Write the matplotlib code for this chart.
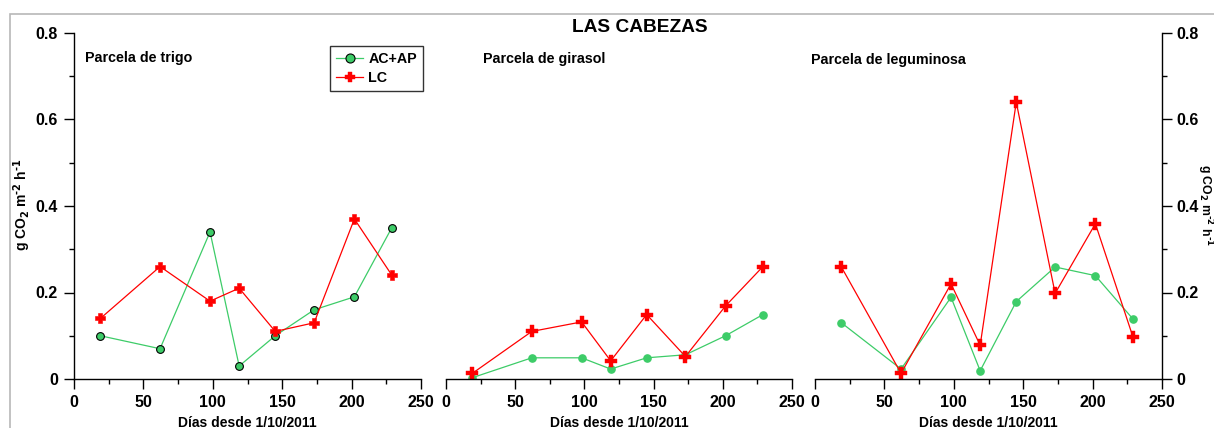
import matplotlib
matplotlib.use("Agg")
import matplotlib.pyplot as plt
from matplotlib.ticker import MultipleLocator, FuncFormatter
from matplotlib.lines import Line2D
from matplotlib.patches import Rectangle

plt.rcParams['font.family'] = ['Liberation Sans', 'DejaVu Sans']
plt.rcParams['font.weight'] = 'bold'
plt.rcParams['mathtext.default'] = 'bf'

days = [19, 62, 98, 119, 145, 173, 202, 229]

trigo_acap = [0.10, 0.07, 0.34, 0.03, 0.10, 0.16, 0.19, 0.35]
trigo_lc = [0.14, 0.26, 0.18, 0.21, 0.11, 0.13, 0.37, 0.24]

girasol_acap = [0.003, 0.049, 0.049, 0.023, 0.049, 0.056, 0.10, 0.149]
girasol_lc = [0.013, 0.11, 0.132, 0.042, 0.149, 0.052, 0.169, 0.26]

legum_acap = [0.13, 0.023, 0.189, 0.019, 0.179, 0.259, 0.239, 0.139]
legum_lc = [0.259, 0.013, 0.22, 0.078, 0.64, 0.198, 0.359, 0.098]

panel_titles = ["Parcela de trigo", "Parcela de girasol", "Parcela de leguminosa"]
series_names = ["AC+AP", "LC"]
xlabel = "Días desde 1/10/2011"
ylabel = r"g CO$_\mathbf{2}$ m$^\mathbf{\text{-}2}$ h$^\mathbf{\text{-}1}$"

GREEN = "#3dcc68"
RED = "#ff0000"

W, H = 1214, 428
fig = plt.figure(figsize=(W / 100, H / 100), dpi=100)

# grey frame
fig.add_artist(Rectangle((10 / W, -0.1), 1.2, 1 - 14 / H + 0.1, transform=fig.transFigure,
                         fill=False, edgecolor="#b8b8b8", linewidth=1.2))

bottom = 1 - 379 / H
top = 1 - 33 / H
lefts = [74, 446, 815]
widths = [347, 346, 347]
axes = []
for l, w in zip(lefts, widths):
    ax = fig.add_axes([l / W, bottom, w / W, top - bottom])
    ax.set_xlim(0, 250)
    ax.set_ylim(0, 0.8)
    ax.patch.set_alpha(0)
    for s in ["top", "right", "left"]:
        ax.spines[s].set_visible(False)
    for s in ax.spines.values():
        s.set_linewidth(1)
    ax.xaxis.set_major_locator(MultipleLocator(50))
    ax.xaxis.set_minor_locator(MultipleLocator(25))
    ax.tick_params(axis="x", which="major", length=7.5, width=1, direction="out", labelsize=11.5, pad=4)
    ax.tick_params(axis="x", which="minor", length=3.8, width=1, direction="out")
    ax.set_xlabel(xlabel, fontsize=10, fontweight="bold", labelpad=4)
    for lab in ax.get_xticklabels():
        lab.set_fontweight("bold")
    axes.append(ax)

fmt = FuncFormatter(lambda v, p: "0" if abs(v) < 1e-9 else f"{v:.1f}")

def style_y(ax, pad):
    ax.yaxis.set_major_locator(MultipleLocator(0.2))
    ax.yaxis.set_minor_locator(MultipleLocator(0.1))
    ax.yaxis.set_major_formatter(fmt)
    ax.tick_params(axis="y", which="major", length=7.5, width=1, labelsize=11.5, pad=pad)
    ax.tick_params(axis="y", which="minor", length=3.8, width=1)
    for lab in ax.get_yticklabels():
        lab.set_fontweight("bold")

# Panel 1
ax = axes[0]
ax.spines["left"].set_visible(True)
style_y(ax, 4)
ax.plot(days, trigo_acap, color=GREEN, lw=0.9, marker="o", ms=5.6, mfc=GREEN, mec="black", mew=0.8)
ax.plot(days, trigo_lc, color=RED, lw=0.9, marker="P", ms=7, mfc=RED, mec=RED, mew=0.4)

# Panel 2
ax = axes[1]
ax.set_yticks([])
ax.plot(days, girasol_acap, color=GREEN, lw=0.9, marker="o", ms=5.2, mfc=GREEN, mec=GREEN)
ax.plot(days, girasol_lc, color=RED, lw=0.9, marker="P", ms=8.8, mfc=RED, mec=RED, mew=0.3)

# Panel 3
ax = axes[2]
ax.spines["right"].set_visible(True)
ax.yaxis.tick_right()
style_y(ax, 2.5)
ax.plot(days, legum_acap, color=GREEN, lw=0.9, marker="o", ms=5.2, mfc=GREEN, mec=GREEN)
ax.plot(days, legum_lc, color=RED, lw=0.9, marker="P", ms=8.8, mfc=RED, mec=RED, mew=0.3)

# y labels
fig.text(22 / W, 1 - 205 / H, ylabel, fontsize=10, fontweight="bold", rotation=90,
         ha="center", va="center", rotation_mode="anchor")
fig.text(1205 / W, 1 - 205 / H, ylabel, fontsize=8.8, fontweight="bold", rotation=-90,
         ha="center", va="center", rotation_mode="anchor")

# panel titles
title_pos = [(85, 62), (483, 63), (811, 64)]
for (px, py), t in zip(title_pos, panel_titles):
    fig.text(px / W, 1 - py / H, t, fontsize=10.3, fontweight="bold", va="baseline", ha="left")

fig.text(640 / W, 1 - 32 / H, "LAS CABEZAS", fontsize=13.8, fontweight="bold", ha="center", va="baseline")

# legend
handles = [Line2D([], [], color=GREEN, lw=0.9, marker="o", ms=6.5, mfc=GREEN, mec="black", mew=0.8),
           Line2D([], [], color=RED, lw=0.9, marker="P", ms=7.2, mfc=RED, mec=RED, mew=0.3)]
leg = axes[0].legend(handles, series_names, loc="upper left",
                     bbox_to_anchor=((330 - 74) / 347, (379 - 46) / 346),
                     frameon=True, fancybox=False, edgecolor="black", fontsize=10.3, handlelength=1.9,
                     borderpad=0.42, labelspacing=0.35, handletextpad=0.35, borderaxespad=0)
leg.get_frame().set_linewidth(1)
for t in leg.get_texts():
    t.set_fontweight("bold")

fig.savefig("out.png", dpi=100)
